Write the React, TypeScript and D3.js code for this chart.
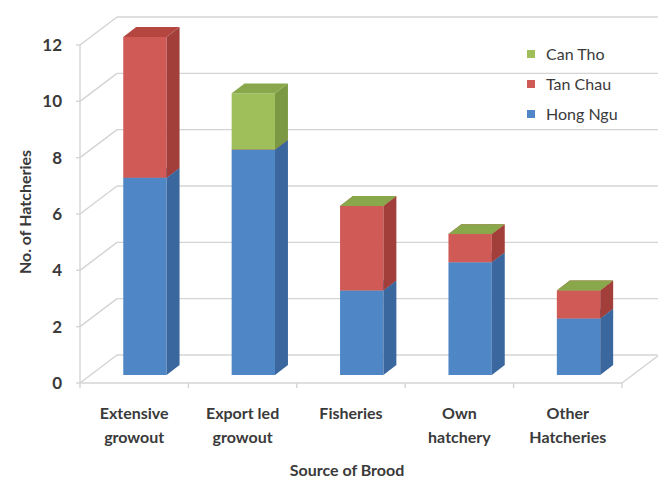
import React from "react";
import * as d3 from "d3";

// Source of brood categories and hatchery counts per region
const categories = ["Extensive growout", "Export led growout", "Fisheries", "Own hatchery", "Other Hatcheries"];
const categoryLines = [["Extensive", "growout"], ["Export led", "growout"], ["Fisheries"], ["Own", "hatchery"], ["Other", "Hatcheries"]];
const seriesNames = ["Hong Ngu", "Tan Chau", "Can Tho"];
const hongNgu = [7, 8, 3, 4, 2];
const tanChau = [5, 0, 3, 1, 1];
const canTho: (number | null)[] = [null, 2, 0, 0, 0];
const yTicks = [0, 2, 4, 6, 8, 10, 12];

const W = 658;
const H = 480;

// Face colours: front, side, top
const palette = [
  { front: "#4F87C6", side: "#3A679D", top: "#4A7DB8" },
  { front: "#D05A55", side: "#A33F3B", top: "#B5463F" },
  { front: "#9FBF5A", side: "#7B9942", top: "#88A84B" },
];

// Oblique depth offset of the plot box
const DX = 37;
const DY = 28;
// Bar depth range inside the box (fraction of full depth)
const Z0 = 0.29;
const Z1 = 0.64;

const x = d3.scaleBand<string>().domain(categories).range([80, 622]).paddingInner(0.6).paddingOuter(0.3);
const y = d3.scaleLinear().domain([0, 12]).range([383, 45]);

const pt = (px: number, v: number, z: number) => `${px + z * DX},${y(v) - z * DY}`;

export default function App() {
  const series = [hongNgu, tanChau, canTho];
  const grid = "#D4D4D4";
  const textCol = "#3A3A3A";
  const xLeft = x.range()[0];
  const xRight = x.range()[1];
  const step = x.step();

  const bars: React.ReactNode[] = [];
  categories.forEach((c, i) => {
    const x0 = x(c)!;
    const x1 = x0 + x.bandwidth();
    let base = 0;
    series.forEach((s, k) => {
      const v = s[i];
      if (v === null || v === undefined) return;
      const b = base;
      const t = base + v;
      base = t;
      const col = palette[k];
      bars.push(
        <g key={`${i}-${k}`}>
          <polygon points={[pt(x0, b, Z0), pt(x1, b, Z0), pt(x1, t, Z0), pt(x0, t, Z0)].join(" ")} fill={col.front} />
          <polygon points={[pt(x1, b, Z0), pt(x1, b, Z1), pt(x1, t, Z1), pt(x1, t, Z0)].join(" ")} fill={col.side} />
          <polygon points={[pt(x0, t, Z0), pt(x1, t, Z0), pt(x1, t, Z1), pt(x0, t, Z1)].join(" ")} fill={col.top} />
        </g>
      );
    });
  });

  return (
    <svg width={W} height={H} style={{ position: "absolute", left: 0, top: 0, background: "#fff" }} fontFamily="Lato, 'Open Sans', sans-serif">
      {/* back wall and side wall gridlines */}
      {yTicks.map((t) => (
        <g key={t}>
          <line x1={xLeft + DX} x2={W + 2} y1={y(t) - DY} y2={y(t) - DY} stroke={grid} strokeWidth={1.4} />
          <line x1={xLeft} x2={xLeft + DX} y1={y(t)} y2={y(t) - DY} stroke={grid} strokeWidth={1.4} />
          <line x1={xLeft - 4} x2={xLeft} y1={y(t)} y2={y(t)} stroke={grid} strokeWidth={1.4} />
          <text x={62} y={y(t)} dy="0.36em" textAnchor="end" fontSize={17} fontWeight={700} fill={textCol}>
            {t}
          </text>
        </g>
      ))}
      {/* floor edges and vertical axis */}
      <line x1={xLeft} x2={xLeft} y1={y(12)} y2={y(0)} stroke={grid} strokeWidth={1.4} />
      <line x1={xLeft} x2={xRight} y1={y(0)} y2={y(0)} stroke={grid} strokeWidth={1.4} />
      <line x1={xRight} x2={xRight + DX} y1={y(0)} y2={y(0) - DY} stroke={grid} strokeWidth={1.4} />
      {d3.range(categories.length + 1).map((i) => (
        <line key={i} x1={xLeft + i * step} x2={xLeft + i * step} y1={y(0)} y2={y(0) + 5} stroke={grid} strokeWidth={1.4} />
      ))}

      {bars}

      {/* category labels */}
      {categories.map((c, i) => (
        <text key={c} x={x(c)! + x.bandwidth() / 2} y={419} textAnchor="middle" fontSize={16} fontWeight={700} fill={textCol}>
          {categoryLines[i].map((ln, j) => (
            <tspan key={j} x={x(c)! + x.bandwidth() / 2} dy={j === 0 ? 0 : 24}>
              {ln}
            </tspan>
          ))}
        </text>
      ))}

      <text x={347} y={476} textAnchor="middle" fontSize={16} fontWeight={700} fill={textCol}>
        Source of Brood
      </text>
      <text transform="translate(31,212) rotate(-90)" textAnchor="middle" fontSize={16} fontWeight={700} fill={textCol}>
        No. of Hatcheries
      </text>

      {/* legend, listed top series first */}
      {[2, 1, 0].map((k, j) => (
        <g key={k} transform={`translate(531,${54 + j * 30})`}>
          <rect x={-4} y={-4} width={8} height={8} fill={palette[k].front} />
          <text x={15} y={0} dy="0.36em" fontSize={16} fill={textCol}>
            {seriesNames[k]}
          </text>
        </g>
      ))}
    </svg>
  );
}
